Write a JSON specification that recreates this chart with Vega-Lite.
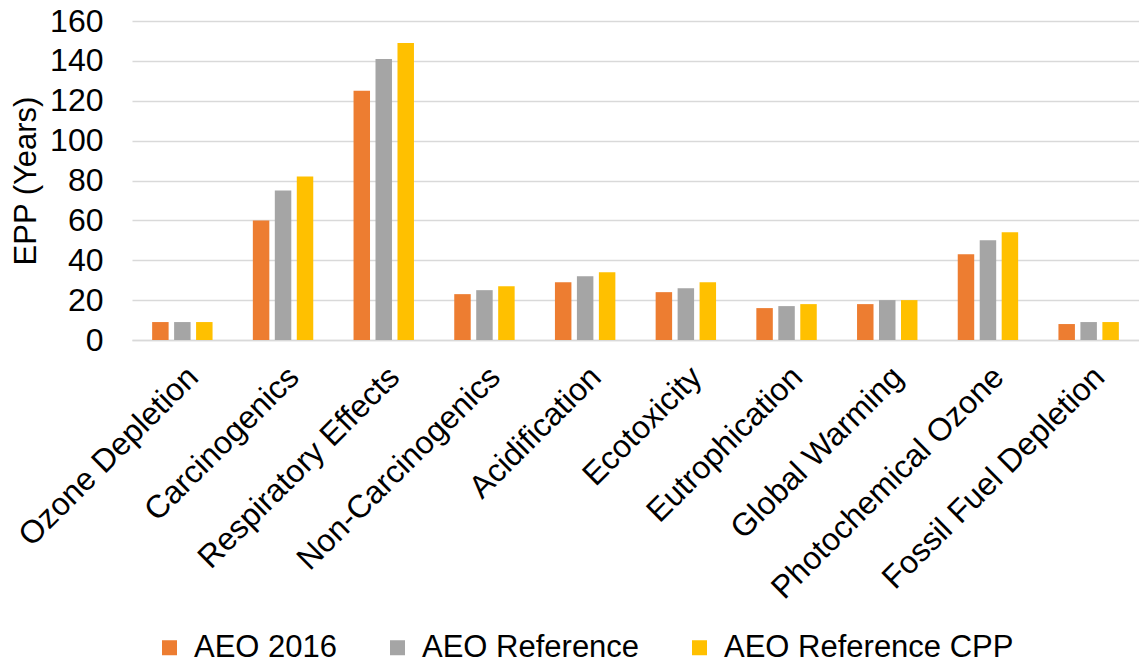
{
  "$schema": "https://vega.github.io/schema/vega-lite/v6.json",
  "width": 1007,
  "height": 319,
  "autosize": "none",
  "padding": {"left": 132, "top": 21, "right": 0, "bottom": 325},
  "background": "white",
  "config": {
    "font": "Liberation Sans",
    "view": {"stroke": null},
    "axis": {"labelFont": "Liberation Sans", "titleFont": "Liberation Sans", "labelColor": "#000000", "titleColor": "#000000"},
    "legend": {"labelFont": "Liberation Sans", "labelColor": "#000000"}
  },
  "data": {
    "values": [
      {"category": "Ozone Depletion", "series": "AEO 2016", "value": 9},
      {"category": "Ozone Depletion", "series": "AEO Reference", "value": 9},
      {"category": "Ozone Depletion", "series": "AEO Reference CPP", "value": 9},
      {"category": "Carcinogenics", "series": "AEO 2016", "value": 60},
      {"category": "Carcinogenics", "series": "AEO Reference", "value": 75},
      {"category": "Carcinogenics", "series": "AEO Reference CPP", "value": 82},
      {"category": "Respiratory Effects", "series": "AEO 2016", "value": 125},
      {"category": "Respiratory Effects", "series": "AEO Reference", "value": 141},
      {"category": "Respiratory Effects", "series": "AEO Reference CPP", "value": 149},
      {"category": "Non-Carcinogenics", "series": "AEO 2016", "value": 23},
      {"category": "Non-Carcinogenics", "series": "AEO Reference", "value": 25},
      {"category": "Non-Carcinogenics", "series": "AEO Reference CPP", "value": 27},
      {"category": "Acidification", "series": "AEO 2016", "value": 29},
      {"category": "Acidification", "series": "AEO Reference", "value": 32},
      {"category": "Acidification", "series": "AEO Reference CPP", "value": 34},
      {"category": "Ecotoxicity", "series": "AEO 2016", "value": 24},
      {"category": "Ecotoxicity", "series": "AEO Reference", "value": 26},
      {"category": "Ecotoxicity", "series": "AEO Reference CPP", "value": 29},
      {"category": "Eutrophication", "series": "AEO 2016", "value": 16},
      {"category": "Eutrophication", "series": "AEO Reference", "value": 17},
      {"category": "Eutrophication", "series": "AEO Reference CPP", "value": 18},
      {"category": "Global Warming", "series": "AEO 2016", "value": 18},
      {"category": "Global Warming", "series": "AEO Reference", "value": 20},
      {"category": "Global Warming", "series": "AEO Reference CPP", "value": 20},
      {"category": "Photochemical Ozone", "series": "AEO 2016", "value": 43},
      {"category": "Photochemical Ozone", "series": "AEO Reference", "value": 50},
      {"category": "Photochemical Ozone", "series": "AEO Reference CPP", "value": 54},
      {"category": "Fossil Fuel Depletion", "series": "AEO 2016", "value": 8},
      {"category": "Fossil Fuel Depletion", "series": "AEO Reference", "value": 9},
      {"category": "Fossil Fuel Depletion", "series": "AEO Reference CPP", "value": 9}
    ]
  },
  "mark": {"type": "bar"},
  "encoding": {
    "x": {
      "field": "category",
      "type": "nominal",
      "sort": null,
      "scale": {"paddingInner": 0.4, "paddingOuter": 0.2},
      "axis": {
        "title": null,
        "labelAngle": -45,
        "labelAlign": "right",
        "labelBaseline": "top",
        "labelFontSize": 32,
        "labelPadding": 21,
        "ticks": false,
        "domain": true,
        "domainColor": "#d9d9d9",
        "domainWidth": 1.5,
        "grid": false,
        "labelLimit": 0,
        "labelOverlap": false
      }
    },
    "xOffset": {
      "field": "series",
      "type": "nominal",
      "scale": {"domain": ["AEO 2016", "AEO Reference", "AEO Reference CPP"], "paddingInner": 0.25, "paddingOuter": 0}
    },
    "y": {
      "field": "value",
      "type": "quantitative",
      "scale": {"domain": [0, 160], "nice": false},
      "axis": {
        "title": "EPP (Years)",
        "titleFontSize": 31,
        "titleFontWeight": "normal",
        "titleAngle": -90,
        "titleX": -90,
        "titleY": 159.5,
        "titleAlign": "center",
        "titleBaseline": "bottom",
        "values": [0, 20, 40, 60, 80, 100, 120, 140, 160],
        "labelFontSize": 32,
        "labelPadding": 29,
        "ticks": false,
        "domain": false,
        "grid": true,
        "gridColor": "#d9d9d9",
        "gridWidth": 1.5
      }
    },
    "color": {
      "field": "series",
      "type": "nominal",
      "scale": {
        "domain": ["AEO 2016", "AEO Reference", "AEO Reference CPP"],
        "range": ["#ed7d31", "#a5a5a5", "#ffc000"]
      },
      "legend": {
        "title": null,
        "orient": "none",
        "direction": "horizontal",
        "legendX": 22,
        "legendY": 611,
        "symbolType": "square",
        "symbolSize": 225,
        "symbolStrokeWidth": 0,
        "symbolOpacity": 1,
        "labelFontSize": 31,
        "labelOffset": 9,
        "columnPadding": 44,
        "labelLimit": 0
      }
    }
  }
}
